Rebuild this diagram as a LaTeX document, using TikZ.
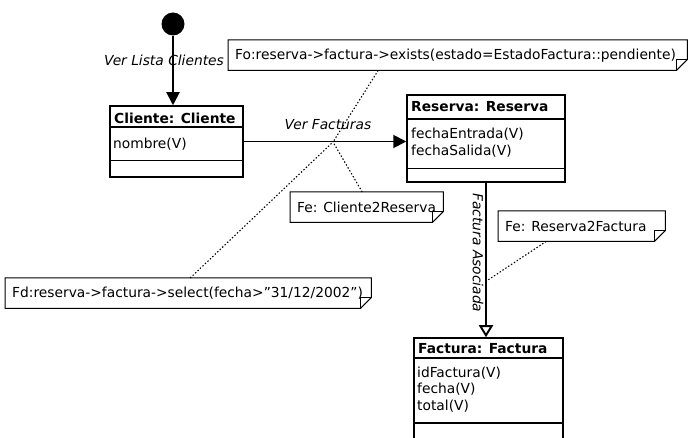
\documentclass[tikz,border=0pt]{standalone}
\usepackage{fontspec}
\setmainfont{DejaVu Sans}
\usetikzlibrary{arrows.meta}
\usetikzlibrary{calc}

\begin{document}
\begin{tikzpicture}[x=1pt,y=-1pt,font=\fontsize{13.8}{16.4}\selectfont,
  clase/.style={draw,line width=1.5pt,inner sep=0pt},
  titulo/.style={anchor=west,inner sep=0pt,font=\fontsize{13.8}{16.4}\selectfont\bfseries},
  atributo/.style={anchor=west,inner sep=0pt,align=left},
  nota/.style={anchor=north west,inner xsep=7pt,inner ysep=0pt,minimum height=30pt},
  borde/.style={line width=1pt},
  enlace/.style={line width=1.1pt,dash pattern=on 1.4pt off 2pt},
  flujo/.style={line width=1.9pt,-{Triangle[length=13pt,width=13pt]}},
  accion/.style={inner sep=0pt,font=\fontsize{13.8}{16.4}\selectfont\itshape}]
\useasboundingbox (0,0) rectangle (689,438);

% estado inicial
\node[circle,fill,minimum size=23pt,inner sep=0pt] (inicio) at (173,24) {};

% clases
\node[clase,minimum width=133pt,minimum height=71pt] (cliente) at (176.5,141.5) {};
\draw[line width=1.5pt] ([yshift=-22pt]cliente.north west) -- ([yshift=-22pt]cliente.north east)
  ([yshift=17pt]cliente.south west) -- ([yshift=17pt]cliente.south east);
\node[titulo] (clienteTit) at (114,118) {Cliente: Cliente};
\node[atributo] (clienteAtr) at (113,144) {nombre(V)};

\node[clase,minimum width=158pt,minimum height=87pt] (reserva) at (486,138.5) {};
\draw[line width=1.5pt] ([yshift=-25pt]reserva.north west) -- ([yshift=-25pt]reserva.north east)
  ([yshift=14pt]reserva.south west) -- ([yshift=14pt]reserva.south east);
\node[titulo] (reservaTit) at (411,107) {Reserva: Reserva};
\node[atributo] (reservaAtr) at (411,142.5) {fechaEntrada(V)\\fechaSalida(V)};

\node[clase,minimum width=149pt,minimum height=108pt] (factura) at (488.5,392) {};
\draw[line width=1.5pt] ([yshift=-21pt]factura.north west) -- ([yshift=-21pt]factura.north east)
  ([yshift=-86pt]factura.north west) -- ([yshift=-86pt]factura.north east);
\node[titulo] (facturaTit) at (418,349) {Factura: Factura};
\node[atributo] (facturaAtr) at (417,389.5) {idFactura(V)\\fecha(V)\\total(V)};

% transiciones
\draw[flujo] (inicio) -- (inicio |- cliente.north);
\draw[flujo] (cliente.east) -- (cliente.east -| reserva.west);
\draw[line width=1.9pt,-{Triangle[open,length=12pt,width=14pt]}] (reserva.south) -- (reserva.south |- factura.north);
\node[accion] (verLista) at (164,60) {Ver Lista Clientes};
\node[accion] (verFacturas) at (328,125) {Ver Facturas};
\node[accion,rotate=-90] (asociada) at (478,253) {Factura Asociada};

% notas
\node[nota] (fo) at (228,40) {\makebox[445pt][l]{Fo:reserva->factura->exists(estado=EstadoFactura::pendiente)}};
\node[nota] (fe1) at (290,192) {\makebox[139pt][l]{Fe: Cliente2Reserva}};
\node[nota] (fe2) at (498,211) {\makebox[153pt][l]{Fe: Reserva2Factura}};
\node[nota] (fd) at (5,278) {\makebox[352pt][l]{Fd:reserva->factura->select(fecha>”31/12/2002”)}};
\foreach \n in {fo,fe1,fe2,fd} {
  \draw[borde] (\n.north west) -- (\n.north east) -- ([yshift=11pt]\n.south east)
    -- ([xshift=-11pt]\n.south east) -- (\n.south west) -- cycle;
  \draw[borde] ([yshift=11pt]\n.south east) -- ([xshift=-11pt,yshift=11pt]\n.south east)
    -- ([xshift=-11pt]\n.south east);
}

\coordinate (cruce) at (333,142);
\coordinate (cruce2) at (488,280);
\draw[enlace] ([xshift=-79.5pt]fo.south) -- (cruce);
\draw[enlace] ([xshift=-4.5pt]fe1.north) -- (cruce);
\draw[enlace] ([xshift=2pt]fd.north) -- (cruce);
\draw[enlace] ([xshift=-35.5pt]fe2.south) -- (cruce2);
\end{tikzpicture}
\end{document}
